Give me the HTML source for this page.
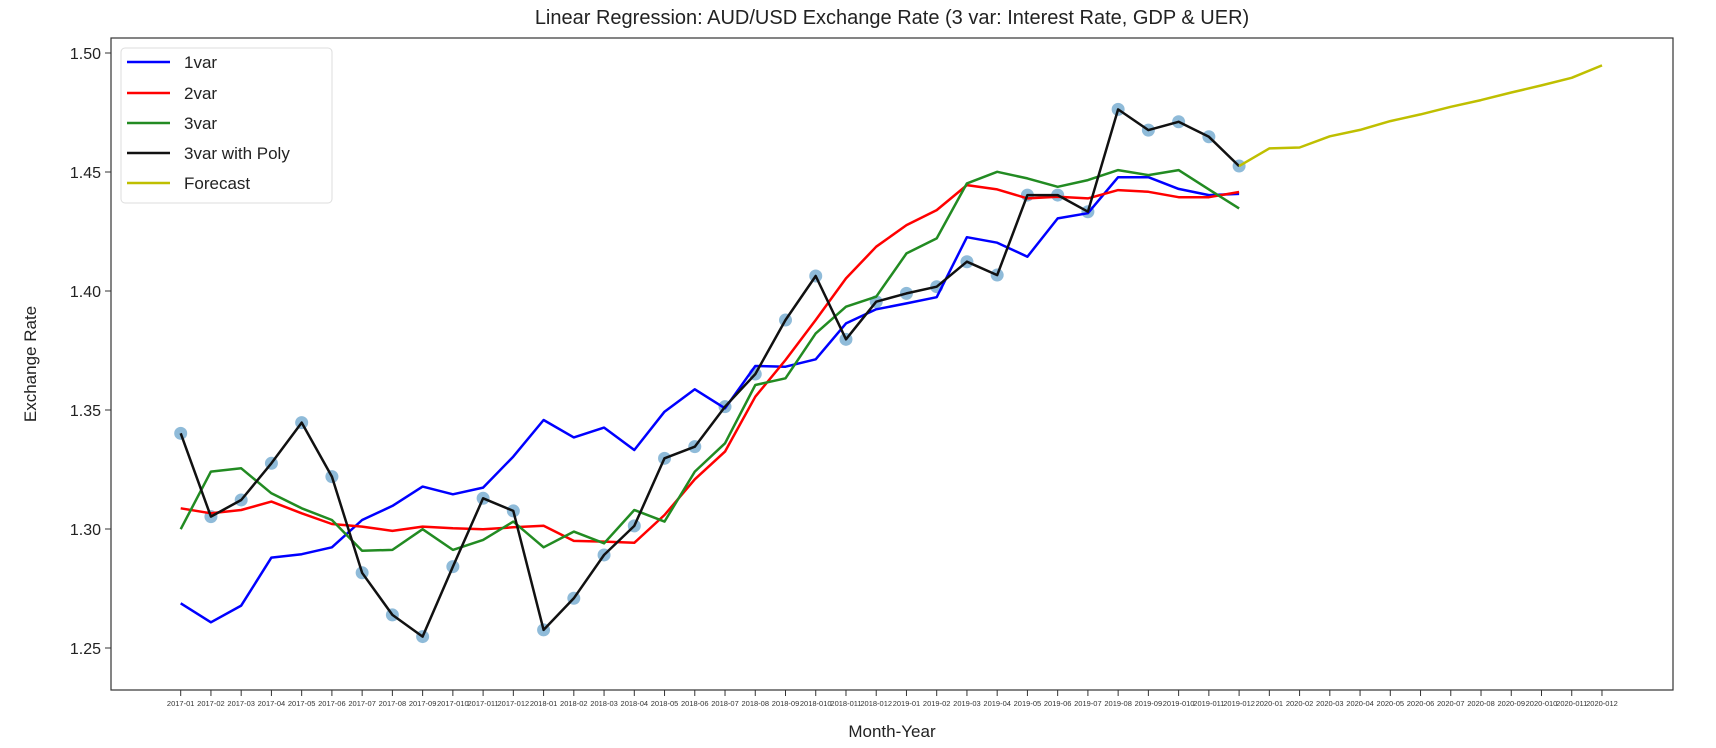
<!DOCTYPE html>
<html><head><meta charset="utf-8"><style>
body{margin:0;background:#fff;}
svg{display:block;font-family:"Liberation Sans",sans-serif;}
</style></head><body>
<svg id="chart" width="1716" height="748" viewBox="0 0 1716 748" xmlns="http://www.w3.org/2000/svg">
<text x="892" y="24" text-anchor="middle" font-size="20" fill="#222">Linear Regression: AUD/USD Exchange Rate (3 var: Interest Rate, GDP &amp; UER)</text>
<text x="892" y="737" text-anchor="middle" font-size="17" fill="#222">Month-Year</text>
<text transform="translate(36,364) rotate(-90)" text-anchor="middle" font-size="17" fill="#222">Exchange Rate</text>
<g id="xticks"></g><g id="yticks"></g><g id="series"></g>
<rect x="111" y="38" width="1562" height="652" fill="none" stroke="#333" stroke-width="1.2"/>
<g>
<rect x="121" y="48" width="211" height="155" rx="4" fill="#fff" fill-opacity="0.85" stroke="#ddd"/>
<line x1="127" y1="62" x2="170" y2="62" stroke="#0000ff" stroke-width="2.5"/><text x="184" y="68" font-size="17" fill="#222">1var</text>
<line x1="127" y1="93" x2="170" y2="93" stroke="#ff0000" stroke-width="2.5"/><text x="184" y="99" font-size="17" fill="#222">2var</text>
<line x1="127" y1="123" x2="170" y2="123" stroke="#228b22" stroke-width="2.5"/><text x="184" y="129" font-size="17" fill="#222">3var</text>
<line x1="127" y1="153" x2="170" y2="153" stroke="#111" stroke-width="2.5"/><text x="184" y="159" font-size="17" fill="#222">3var with Poly</text>
<line x1="127" y1="183" x2="170" y2="183" stroke="#bfbf00" stroke-width="2.5"/><text x="184" y="189" font-size="17" fill="#222">Forecast</text>
</g>
</svg>
<script>
const categories=[];
const years=[2017,2018,2019,2020];
const yTicks=[1.25,1.30,1.35,1.40,1.45,1.50];
const actual=[1.3402,1.3052,1.3122,1.3276,1.3447,1.322,1.2816,1.2639,1.2548,1.2842,1.3129,1.3076,1.2576,1.2709,1.2891,1.3013,1.3297,1.3346,1.3514,1.3651,1.3878,1.4063,1.3797,1.3955,1.399,1.4018,1.4123,1.4067,1.4403,1.4403,1.4333,1.4763,1.4676,1.4711,1.4648,1.4525];
const var1=[1.2688,1.2608,1.2678,1.288,1.2894,1.2923,1.3038,1.3097,1.3178,1.3146,1.3174,1.3304,1.3458,1.3385,1.3426,1.3332,1.3493,1.3587,1.3507,1.3685,1.3682,1.3713,1.3864,1.3923,1.3948,1.3974,1.4226,1.4203,1.4144,1.4305,1.4327,1.4478,1.4478,1.4429,1.4403,1.4408];
const var2=[1.3087,1.3066,1.308,1.3115,1.3066,1.3021,1.301,1.2992,1.301,1.3003,1.2999,1.3007,1.3014,1.295,1.2947,1.2942,1.3059,1.3209,1.3325,1.3556,1.371,1.3878,1.4053,1.4186,1.4277,1.434,1.4445,1.4427,1.4389,1.4396,1.4389,1.4424,1.4417,1.4394,1.4394,1.4416];
const var3=[1.2999,1.3241,1.3255,1.315,1.3087,1.3038,1.2909,1.2912,1.2999,1.2912,1.2954,1.3031,1.2923,1.2989,1.294,1.308,1.3031,1.3241,1.336,1.3605,1.3633,1.3822,1.3934,1.3976,1.4158,1.4221,1.4452,1.4501,1.4473,1.4438,1.4466,1.4508,1.4487,1.4508,1.4427,1.4347];
const poly=[1.3402,1.3052,1.3122,1.3276,1.3447,1.322,1.2816,1.2639,1.2548,1.2842,1.3129,1.3076,1.2576,1.2709,1.2891,1.3013,1.3297,1.3346,1.3514,1.3651,1.3878,1.4063,1.3797,1.3955,1.399,1.4018,1.4123,1.4067,1.4403,1.4403,1.4333,1.4763,1.4676,1.4711,1.4648,1.4525];
const forecast=[1.4525,1.4599,1.4603,1.465,1.4677,1.4714,1.4742,1.4774,1.4802,1.4834,1.4864,1.4896,1.4948];
const forecastStart=35;
years.forEach(y=>{for(let m=1;m<=12;m++)categories.push(y+'-0'+m);});
const NS='http://www.w3.org/2000/svg';
const x0=180.7,dx=30.24;
function xs(i){return x0+i*dx;}
function ys(v){return 53+(1.5-v)*2380;}
function mk(tag,attrs,parent){const e=document.createElementNS(NS,tag);for(const k in attrs)e.setAttribute(k,attrs[k]);parent.appendChild(e);return e;}
const xt=document.getElementById('xticks'),yt=document.getElementById('yticks'),sg=document.getElementById('series');
categories.forEach((c,i)=>{
 const l=mk('line',{x1:xs(i),x2:xs(i),y1:690,y2:696,stroke:'#333'},xt);
 
 
 const t=mk('text',{x:xs(i),y:706,'text-anchor':'middle','font-size':'7.5',fill:'#333'},xt);
 
 
 t.textContent=c;
});
yTicks.forEach(v=>{
 const l=mk('line',{x1:105,x2:111,y1:ys(v),y2:ys(v),stroke:'#333'},yt);
 
 
 const t=mk('text',{x:101,y:ys(v)+6,'text-anchor':'end','font-size':'16',fill:'#222'},yt);
 
 
 t.textContent=v.toFixed(2);
});
actual.forEach((v,i)=>{
 const c=mk('circle',{cx:xs(i),cy:ys(v),r:6.5,fill:'#1f77b4','fill-opacity':0.5},sg);
 
 
});
function line(arr,off,color,name){
 const p=arr.map((v,i)=>xs(i+off).toFixed(1)+','+ys(v).toFixed(1)).join(' ');
 const e=mk('polyline',{points:p,fill:'none',stroke:color,'stroke-width':2.5,'stroke-linejoin':'round'},sg);
 
 
}
line(var1,0,'#0000ff','line-1var');
line(var2,0,'#ff0000','line-2var');
line(var3,0,'#228b22','line-3var');
line(poly,0,'#111111','line-3var-poly');
line(forecast,forecastStart,'#bfbf00','line-forecast');
</script>
</body></html>
